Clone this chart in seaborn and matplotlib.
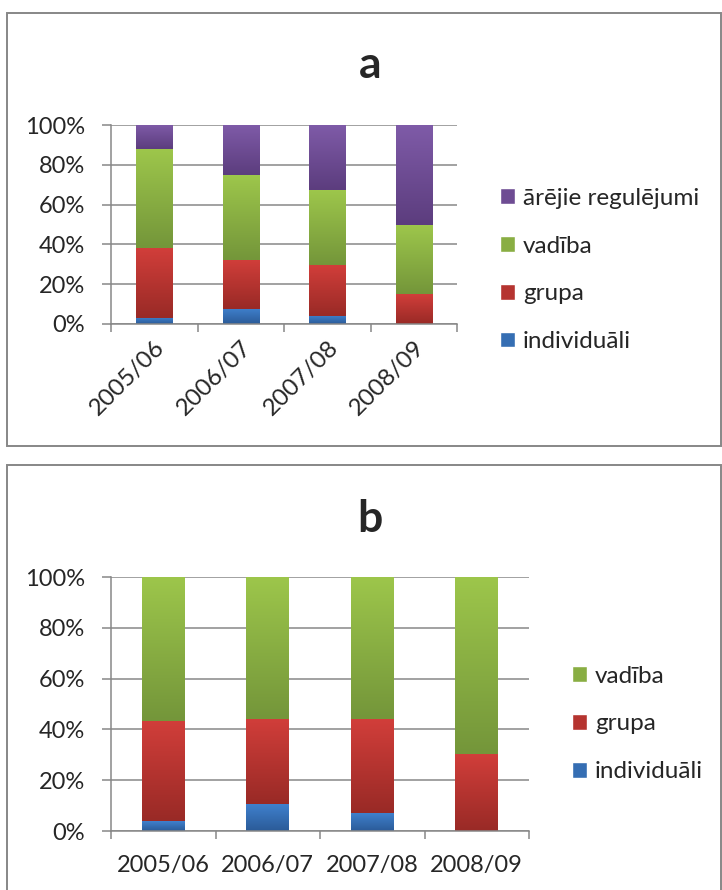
import numpy as np
import pandas as pd
import matplotlib
matplotlib.use('Agg')
import matplotlib.pyplot as plt
from matplotlib.patches import Rectangle, Patch
from matplotlib.colors import to_rgb
import seaborn as sns

# data (percent shares per school year)
years = ['2005/06', '2006/07', '2007/08', '2008/09']
a_individuali = [3.2, 7.7, 4.2, 0.0]
a_grupa = [35.0, 24.7, 25.4, 15.0]
a_vadiba = [49.7, 42.4, 37.6, 34.6]
a_arejie = [12.1, 25.2, 32.8, 50.4]
b_individuali = [3.8, 10.5, 7.0, 0.0]
b_grupa = [39.4, 33.5, 37.0, 30.3]
b_vadiba = [56.8, 56.0, 56.0, 69.7]
pct_ticks = [0, 20, 40, 60, 80, 100]

# (light top, dark bottom) gradient per series
COLORS = {
    'individuāli': ('#3f80cd', '#2b5b98'),
    'grupa': ('#d13e3a', '#992a26'),
    'vadība': ('#9dc64b', '#74963a'),
    'ārējie regulējumi': ('#7f5ba8', '#5c3d7e'),
}
GRID = '#878787'

sns.set_style('white')
plt.rcParams['font.family'] = ['Lato', 'DejaVu Sans']
plt.rcParams['font.size'] = 17


def mid(c):
    a, b = np.array(to_rgb(c[0])), np.array(to_rgb(c[1]))
    return tuple((a + b) / 2)


def gradient(c, n=64):
    a, b = np.array(to_rgb(c[0])), np.array(to_rgb(c[1]))
    t = np.linspace(0, 1, n)[:, None]
    return (a * (1 - t) + b * t)[:, None, :]


def draw_stack(ax, series, names, width):
    tops, cum = [], np.zeros(len(years))
    for vals in series:
        cum = cum + np.array(vals)
        tops.append(cum.copy())
    layer_patches = {}
    # tallest layer first so the lower ones sit on top of it
    for i in reversed(range(len(series))):
        df = pd.DataFrame({'year': years, 'top': tops[i]})
        n0 = len(ax.patches)
        sns.barplot(data=df, x='year', y='top', color=mid(COLORS[names[i]]),
                    saturation=1, width=width, linewidth=0, ax=ax, zorder=2)
        layer_patches[i] = ax.patches[n0:]
    for i in range(len(series)):
        lower = tops[i - 1] if i > 0 else np.zeros(len(years))
        for j, p in enumerate(layer_patches[i]):
            if tops[i][j] - lower[j] <= 0:
                continue
            x0 = p.get_x()
            ax.imshow(gradient(COLORS[names[i]]), aspect='auto', zorder=2.5,
                      extent=(x0, x0 + p.get_width(), lower[j], tops[i][j]),
                      interpolation='bilinear')
    ax.set_xlim(-0.5, len(years) - 0.5)
    ax.set_ylim(0, 100)
    ax.set_yticks(pct_ticks)
    ax.set_yticklabels([f'{t}%' for t in pct_ticks])
    ax.set_xticks(np.arange(-0.5, len(years), 1), minor=True)
    ax.set_xlabel('')
    ax.set_ylabel('')
    ax.set_axisbelow(True)
    ax.yaxis.grid(True, color=GRID, lw=1.1)
    for s in ['top', 'right']:
        ax.spines[s].set_visible(False)
    for s in ['left', 'bottom']:
        ax.spines[s].set_color(GRID)
        ax.spines[s].set_linewidth(1.1)
    ax.tick_params(axis='y', length=6.5, width=1.1, color=GRID, pad=12, labelsize=17, left=True)
    ax.tick_params(axis='x', which='major', length=0, labelsize=17)
    ax.tick_params(axis='x', which='minor', length=6, width=1.1, color=GRID, bottom=True)


W, H = 722, 890
fig = plt.figure(figsize=(W / 100, H / 100), dpi=100)


def px_axes(l, t, r, b):
    return fig.add_axes([l / W, 1 - b / H, (r - l) / W, (b - t) / H])


def add_legend(handles, left, center_y):
    fig.legend(handles=handles, loc='center left', bbox_to_anchor=(left / W, 1 - center_y / H),
               frameon=False, borderpad=0, borderaxespad=0, handlelength=0.62, handleheight=0.62,
               handletextpad=0.32, labelspacing=1.1, fontsize=17.5)


# panel frames
fig.patches.append(Rectangle((7 / W, 1 - 446 / H), 714 / W, 433 / H, transform=fig.transFigure,
                             fill=False, edgecolor=GRID, lw=1.4))
fig.patches.append(Rectangle((7 / W, -0.02), 714 / W, 1 - 465 / H + 0.02, transform=fig.transFigure,
                             fill=False, edgecolor=GRID, lw=1.4))

# panel a
names_a = ['individuāli', 'grupa', 'vadība', 'ārējie regulējumi']
ax_a = px_axes(111, 125, 457, 324)
draw_stack(ax_a, [a_individuali, a_grupa, a_vadiba, a_arejie], names_a, 0.42)
ax_a.tick_params(axis='x', which='major', pad=9)
for lab in ax_a.get_xticklabels():
    lab.set_rotation(45)
    lab.set_ha('right')
    lab.set_va('top')
    lab.set_rotation_mode('anchor')
    lab.set_fontsize(17.5)
fig.text(370 / W, 1 - 78 / H, 'a', ha='center', va='baseline', fontsize=32, fontweight='bold')
add_legend([Patch(facecolor=mid(COLORS[n]), label=n) for n in reversed(names_a)], 500, 270)

# panel b
names_b = ['individuāli', 'grupa', 'vadība']
ax_b = px_axes(111, 577, 529, 831)
draw_stack(ax_b, [b_individuali, b_grupa, b_vadiba], names_b, 0.41)
ax_b.tick_params(axis='x', which='major', pad=17)
fig.text(370 / W, 1 - 532 / H, 'b', ha='center', va='baseline', fontsize=32, fontweight='bold')
add_legend([Patch(facecolor=mid(COLORS[n]), label=n) for n in reversed(names_b)], 572, 724)

fig.savefig('out.png', dpi=100)
